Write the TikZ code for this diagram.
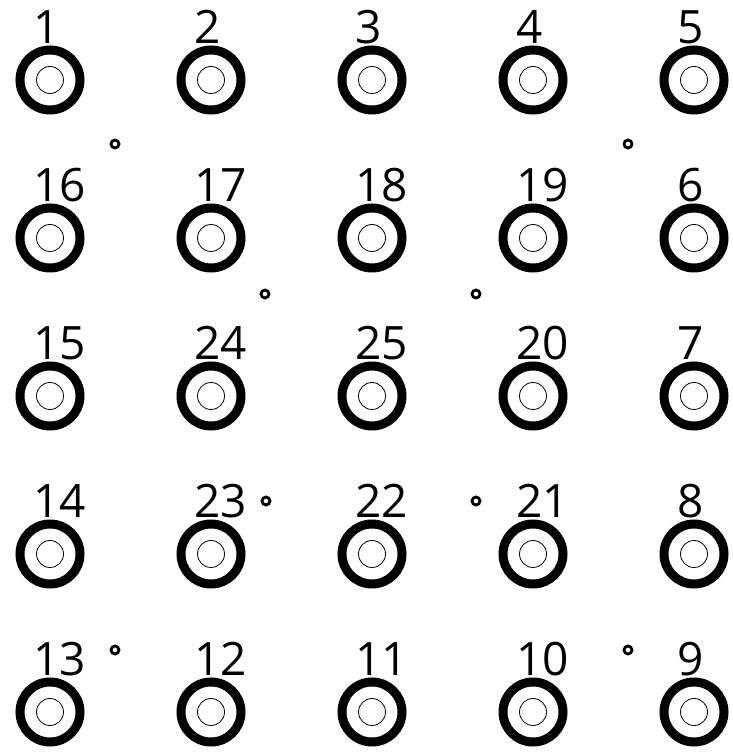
\documentclass[tikz,border=0pt]{standalone}
\usepackage{fontspec}
\setmainfont{Open Sans}
\usetikzlibrary{calc}
\begin{document}
\begin{tikzpicture}[x=1pt,y=1pt,
  ring/.style={circle,draw=black,line width=9pt,minimum size=60pt,inner sep=0pt},
  hole/.style={circle,draw=black,line width=0.8pt,minimum size=27pt,inner sep=0pt},
  padlabel/.style={anchor=base west,inner sep=0pt,font=\fontsize{46}{46}\selectfont},
  via/.style={circle,draw=black,line width=2.8pt,minimum size=8pt,inner sep=0pt}]
\useasboundingbox (0,0) rectangle (732,754);
\foreach \c/\r/\t in {0/0/1,1/0/2,2/0/3,3/0/4,4/0/5,
                      0/1/16,1/1/17,2/1/18,3/1/19,4/1/6,
                      0/2/15,1/2/24,2/2/25,3/2/20,4/2/7,
                      0/3/14,1/3/23,2/3/22,3/3/21,4/3/8,
                      0/4/13,1/4/12,2/4/11,3/4/10,4/4/9}{
  \pgfmathsetmacro\px{50+161*\c}
  \pgfmathsetmacro\py{754-80-158*\r}
  \node[ring] (p\t) at (\px,\py) {};
  \node[hole] (h\t) at (p\t.center) {};
  \node[padlabel] (l\t) at ($(p\t.center)+(-17,36)$) {\t};
}
\node[via] (v1) at (115,754-144) {};
\node[via] (v2) at (628,754-144) {};
\node[via] (v3) at (265,754-294) {};
\node[via] (v4) at (476,754-294) {};
\node[via] (v5) at (266,754-501) {};
\node[via] (v6) at (476,754-501) {};
\node[via] (v7) at (115,754-650) {};
\node[via] (v8) at (628,754-650) {};
\end{tikzpicture}
\end{document}
